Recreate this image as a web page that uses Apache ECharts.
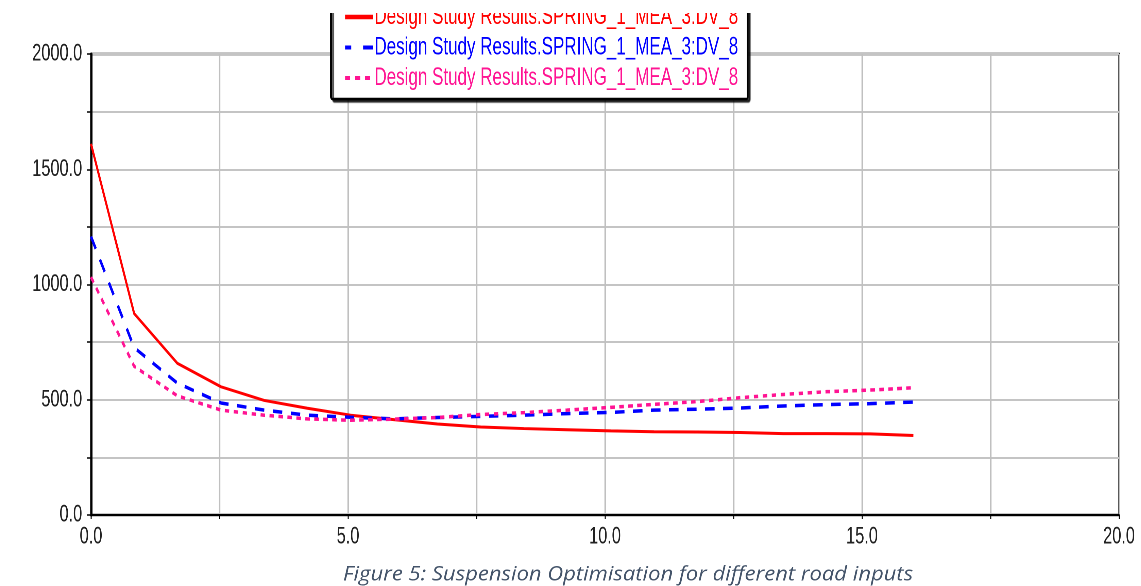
<!DOCTYPE html>
<html>
<head>
<meta charset="utf-8">
<script src="https://cdn.jsdelivr.net/npm/echarts@6/dist/echarts.min.js"></script>
<style>
html,body{margin:0;padding:0;background:#fff;overflow:hidden;width:1141px;height:586px;}
#wrap{width:1141px;height:586px;overflow:hidden;position:relative;}
/* the reference uses a tall condensed face; render wider and squeeze horizontally */
#c{width:1678px;height:586px;transform:scaleX(0.68);transform-origin:0 0;position:absolute;left:0;top:0;}
</style>
</head>
<body>
<div id="wrap"><div id="c"></div></div>
<script>
// ---- data ----
const xValues = [0, 0.84, 1.68, 2.53, 3.37, 4.21, 5.05, 5.89, 6.74, 7.58, 8.42, 9.26, 10.11, 10.95, 11.79, 12.63, 13.47, 14.32, 15.16, 16.0];
const redValues = [1610, 874, 658, 556, 497, 463, 433, 414, 395, 382, 375, 370, 365, 361, 360, 358, 353, 353, 352, 345];
const blueValues = [1208, 726, 572, 486, 455, 433, 424, 417, 423, 428, 433, 440, 445, 455, 459, 464, 473, 479, 483, 490];
const magentaValues = [1032, 645, 517, 455, 433, 417, 411, 416, 423, 436, 444, 455, 467, 480, 492, 509, 523, 535, 542, 552];
const seriesKeys = ['s1', 's2', 's3'];
const legendLabels = ['Design Study Results.SPRING_1_MEA_3:DV_8', 'Design Study Results.SPRING_1_MEA_3:DV_8', 'Design Study Results.SPRING_1_MEA_3:DV_8'];
const xTicks = [0, 5, 10, 15, 20];
const yTicks = [0, 500, 1000, 1500, 2000];
const caption = 'Figure 5: Suspension Optimisation for different road inputs';

const SX = 0.68;                 // horizontal squeeze applied by CSS
const W = 1678;                  // chart width before squeeze
const colors = ['#ff0000', '#0000ff', '#ff1493'];
const FONT = "'Liberation Sans', Arial, sans-serif";

function pairs(vals) { return xValues.map((x, i) => [x, vals[i]]); }
function cx(realX) { return realX / SX; }

const chart = echarts.init(document.getElementById('c'), null, {renderer: 'canvas', devicePixelRatio: 2});
chart.setOption({
  animation: false,
  backgroundColor: '#ffffff',
  graphic: [
    { type: 'rect', z: 100, shape: {x: 0, y: 0, width: W, height: 13}, style: {fill: '#ffffff'} },
    { type: 'text', z: 100, x: cx(343), y: 575, scaleX: 1.1 / SX, scaleY: 1,
      style: {text: caption, fill: '#44546a', font: "italic 20px 'Open Sans', 'Noto Sans', sans-serif", verticalAlign: 'middle', align: 'left'} }
  ],
  grid: {left: cx(91), right: W - cx(1119), top: 54, bottom: 71, show: true, borderColor: '#222', borderWidth: 2.5, backgroundColor: 'transparent'},
  legend: {
    orient: 'vertical',
    left: cx(331), top: -3.5,
    padding: [8, 14, 8.5, cx(14) - 2],
    itemGap: 5.5,
    itemWidth: 41, itemHeight: 16,
    backgroundColor: '#fff',
    borderColor: '#000', borderWidth: 2.5, borderRadius: 2,
    shadowColor: 'rgba(0,0,0,0.75)', shadowOffsetX: 3, shadowOffsetY: 2.5, shadowBlur: 1,
    itemStyle: {color: 'transparent', borderColor: 'transparent', borderWidth: 0},
    formatter: function (name) { return legendLabels[seriesKeys.indexOf(name)]; },
    data: [
      {name: seriesKeys[0], textStyle: {color: colors[0]}, lineStyle: {width: 4.5, type: 'solid'}},
      {name: seriesKeys[1], textStyle: {color: colors[1]}, lineStyle: {width: 4, type: [9, 17.5, 15, 10]}},
      {name: seriesKeys[2], textStyle: {color: colors[2]}, lineStyle: {width: 4, type: [7.4, 7.3]}}
    ],
    textStyle: {fontFamily: FONT, fontSize: 25, lineHeight: 25, padding: [0, 0, 0, -3]}
  },
  xAxis: {
    type: 'value', min: 0, max: 20, interval: 2.5,
    axisLine: {show: true, lineStyle: {color: '#000', width: 2}},
    axisTick: {show: true, length: 4, lineStyle: {color: '#000', width: 1.5}},
    splitLine: {show: true, lineStyle: {color: '#c0c0c0', width: 2.2}},
    axisLabel: {
      margin: 10, fontFamily: FONT, fontSize: 24, color: '#222',
      formatter: function (v) { return xTicks.indexOf(v) >= 0 ? v.toFixed(1) : ''; }
    }
  },
  yAxis: {
    type: 'value', min: 0, max: 2000, interval: 250,
    axisLine: {show: true, lineStyle: {color: '#000', width: 3}},
    axisTick: {show: true, length: 6, lineStyle: {color: '#000', width: 1.5}},
    splitLine: {show: true, lineStyle: {color: '#c4c4c4', width: 2}},
    axisLabel: {
      margin: 13, fontFamily: FONT, fontSize: 24, color: '#222',
      formatter: function (v) { return yTicks.indexOf(v) >= 0 ? v.toFixed(1) : ''; }
    }
  },
  series: [
    {name: seriesKeys[0], type: 'line', data: pairs(redValues), showSymbol: false, symbol: 'none', z: 3,
     lineStyle: {color: colors[0], width: 3, type: 'solid'}, itemStyle: {color: colors[0]}},
    {name: seriesKeys[1], type: 'line', data: pairs(blueValues), showSymbol: false, symbol: 'none', z: 4,
     lineStyle: {color: colors[1], width: 3.5, type: [14, 12.5]}, itemStyle: {color: colors[1]}},
    {name: seriesKeys[2], type: 'line', data: pairs(magentaValues), showSymbol: false, symbol: 'none', z: 5,
     lineStyle: {color: colors[2], width: 3.5, type: [6.6, 6.6]}, itemStyle: {color: colors[2]}}
  ]
});
</script>
</body>
</html>
